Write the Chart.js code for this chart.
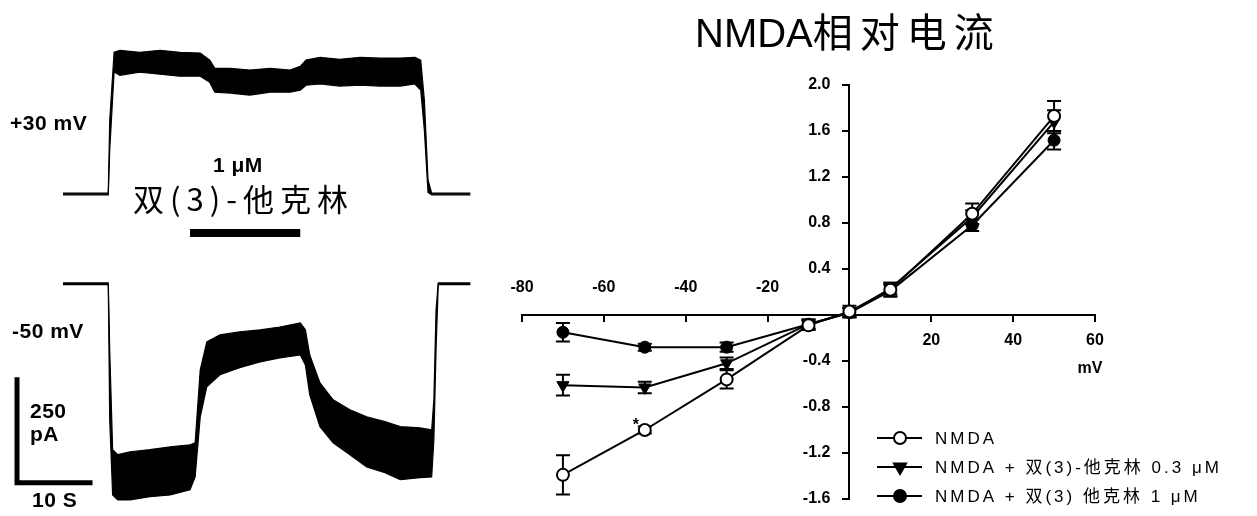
<!DOCTYPE html>
<html>
<head>
<meta charset="utf-8">
<script src="https://cdn.jsdelivr.net/npm/chart.js@4.4.0/dist/chart.umd.min.js"></script>
<style>
body { margin:0; background:#fff; width:1257px; height:516px; overflow:hidden; position:relative;
       font-family:"Liberation Sans", Arial, sans-serif; color:#000; }
canvas { position:absolute; top:0; }
#traces { left:0; }
#iv { left:480px; }
.lbl { position:absolute; white-space:nowrap; line-height:1; }
.b { font-weight:bold; font-size:21px; letter-spacing:0.5px; }
.cjk { font-family:"Noto Sans CJK SC", sans-serif; }
</style>
</head>
<body>
<canvas id="traces" width="480" height="516"></canvas>
<canvas id="iv" width="777" height="516"></canvas>

<div class="lbl b" style="left:10px;top:112px">+30 mV</div>
<div class="lbl b" style="left:12px;top:320px">-50 mV</div>
<div class="lbl b" style="left:213px;top:154px">1 μM</div>
<div class="lbl cjk" style="left:133px;top:182px;font-size:31px;letter-spacing:6px">双(3)-他克林</div>
<div class="lbl b" style="left:30px;top:400px">250</div>
<div class="lbl b" style="left:30px;top:423px">pA</div>
<div class="lbl b" style="left:32px;top:489px">10 S</div>
<div class="lbl" style="left:695px;top:10px;font-size:40px">NMDA<span class="cjk" style="letter-spacing:7px">相对电流</span></div>

<script>
// ---- left: current traces (time in s, current in pA relative to baseline) ----
const t30   = [0,4.4,6.2,6.4,7.0,7.8,10.5,13.3,16.0,18.8,20.1,20.8,22.9,25.6,28.4,31.1,32.5,33.3,35.2,37.9,40.7,43.4,46.2,48.2,49.0,49.5,50.0,50.5,53.0,55.8];
const hi30  = [0,0,0,177,342,347,342,347,342,340,323,303,303,299,303,299,308,323,330,325,330,328,328,330,323,226,32,0,0,0];
const lo30  = [-4,-4,-4,104,294,286,294,289,284,284,269,245,243,238,245,245,250,262,265,260,262,260,260,265,250,153,2,-4,-4,-4];

const t50   = [0,5.1,6.2,6.4,6.8,7.5,9.2,11.9,14.7,17.4,18.1,18.8,19.7,21.5,24.2,27.0,29.7,32.5,33.2,33.8,35.2,37.0,39.3,41.6,44.1,46.2,48.9,50.5,50.8,51.1,51.4,53.0,55.8];
const hi50  = [0,0,0,-163,-405,-417,-410,-405,-398,-393,-388,-211,-143,-126,-119,-114,-107,-97,-114,-175,-243,-284,-308,-325,-337,-349,-352,-357,-284,-66,0,0,0];
const lo50  = [-4,-4,-4,-333,-515,-527,-527,-519,-515,-502,-471,-325,-252,-223,-206,-192,-182,-175,-199,-272,-349,-388,-417,-447,-461,-478,-473,-471,-381,-163,-4,-4,-4];

const drugOn = 17.4, drugOff = 32.5;     // 1 μM 双(3)-他克林 application (s)
const barPA = 250, barSec = 10;          // scale bar

// ---- right: I-V relation ----
const mV        = [-70,-50,-30,-10,0,10,30,50];
const nmda      = [-1.39,-1.00,-0.56,-0.09,0.03,0.22,0.88,1.73];
const nmdaErr   = [0.17,0.03,0.08,0.04,0.05,0.06,0.09,0.13];
const low       = [-0.61,-0.63,-0.42,-0.08,0.02,0.23,0.85,1.68];
const lowErr    = [0.09,0.05,0.05,0.04,0.04,0.05,0.06,0.10];
const high      = [-0.15,-0.28,-0.28,-0.08,0.02,0.21,0.78,1.52];
const highErr   = [0.08,0.03,0.04,0.04,0.04,0.05,0.05,0.08];
const seriesNames = ['NMDA', 'NMDA + 双(3)-他克林 0.3 μM', 'NMDA + 双(3) 他克林 1 μM'];
const xTicks = [-80,-60,-40,-20,20,40,60];

// left chart
const off30 = 218, off50 = 0;
function pts(ts, vs, off) { return ts.map((t, i) => ({x: t, y: vs[i] + off})); }
function band(ts, hi, lo, off) {
    return [
        {data: pts(ts, hi, off), borderColor:'#000', borderWidth:1.2, fill:false},
        {data: pts(ts, lo, off), borderColor:'#000', borderWidth:1.2, backgroundColor:'#000', fill:'-1'}
    ];
}
const barX = -6.3, barY = -485;
new Chart(document.getElementById('traces'), {
    type: 'line',
    data: {
        datasets: [
            ...band(t30, hi30, lo30, off30),
            ...band(t50, hi50, lo50, off50),
            {data: [{x: barX, y: barY + barPA}, {x: barX, y: barY}, {x: barX + barSec, y: barY}],
             borderColor:'#000', borderWidth:5, fill:false, borderCapStyle:'square'},
            {data: [{x: drugOn, y: 121}, {x: drugOff, y: 121}], borderColor:'#000', borderWidth:8, fill:false}
        ]
    },
    options: {
        responsive: false, animation: false,
        layout: {padding: 0},
        elements: {point: {radius: 0}, line: {tension: 0}},
        plugins: {legend: {display: false}, tooltip: {enabled: false}},
        scales: {
            x: {type:'linear', display:false, min:-8.63, max:57.12},
            y: {type:'linear', display:false, min:-566, max:687}
        }
    }
});

// right chart
const errs = [nmdaErr, lowErr, highErr];
const lblFont = 'bold 16px "Liberation Sans", Arial, sans-serif';
const ivDecor = {
    id: 'ivDecor',
    beforeDatasetsDraw(chart) {
        const {ctx, scales: {x, y}} = chart;
        ctx.save();
        ctx.strokeStyle = '#000';
        ctx.lineWidth = 2;
        chart.data.datasets.forEach((ds, k) => {
            ds.data.forEach((p, i) => {
                const px = x.getPixelForValue(p.x);
                const y1 = y.getPixelForValue(p.y + errs[k][i]);
                const y2 = y.getPixelForValue(p.y - errs[k][i]);
                ctx.beginPath();
                ctx.moveTo(px, y1); ctx.lineTo(px, y2);
                ctx.moveTo(px - 7, y1); ctx.lineTo(px + 7, y1);
                ctx.moveTo(px - 7, y2); ctx.lineTo(px + 7, y2);
                ctx.stroke();
            });
        });
        ctx.restore();
    },
    afterDraw(chart) {
        const {ctx, scales: {x, y}} = chart;
        const x0 = x.getPixelForValue(0), y0 = y.getPixelForValue(0);
        ctx.save();
        ctx.fillStyle = '#000';
        ctx.font = lblFont;
        // y labels
        ctx.textAlign = 'right'; ctx.textBaseline = 'middle';
        y.ticks.forEach(t => {
            if (Math.abs(t.value) < 1e-9) return;
            ctx.fillText(t.value.toFixed(1), x0 - 19, y.getPixelForValue(t.value));
        });
        // x labels: negative above the axis, positive below
        ctx.textAlign = 'center';
        xTicks.forEach(v => {
            ctx.fillText(String(v), x.getPixelForValue(v), v < 0 ? y0 - 27 : y0 + 26);
        });
        ctx.fillText('mV', x.getPixelForValue(60) - 5, y0 + 54);
        // significance mark
        const m = chart.getDatasetMeta(0).data[1];
        ctx.fillText('*', m.x - 9, m.y - 4);
        // legend
        ctx.textAlign = 'left';
        ctx.font = '17px "Liberation Sans", "Noto Sans CJK SC", sans-serif';
        ctx.letterSpacing = '3px';
        chart.data.datasets.forEach((ds, k) => {
            const ly = 438 + k * 29, lx = 397;
            ctx.strokeStyle = '#000'; ctx.lineWidth = 2;
            ctx.beginPath(); ctx.moveTo(lx, ly); ctx.lineTo(lx + 45, ly); ctx.stroke();
            ctx.fillStyle = ds.pointBackgroundColor;
            Chart.helpers.drawPoint(ctx, {pointStyle: ds.pointStyle, rotation: ds.pointRotation || 0,
                radius: ds.pointRadius, borderWidth: ds.pointBorderWidth}, lx + 23, ly);
            ctx.fillStyle = '#000';
            ctx.fillText(seriesNames[k], lx + 58, ly + 1);
        });
        ctx.restore();
    }
};
function ser(vals) { return mV.map((v, i) => ({x: v, y: vals[i]})); }
const axisGrid = {drawOnChartArea:false, tickLength:6, color:'#000', lineWidth:2};
new Chart(document.getElementById('iv'), {
    type: 'line',
    data: {
        datasets: [
            {data: ser(nmda), pointStyle:'circle', pointRadius:6, pointBorderWidth:2,
             pointBackgroundColor:'#fff', pointBorderColor:'#000'},
            {data: ser(low), pointStyle:'triangle', pointRotation:180, pointRadius:7, pointBorderWidth:1,
             pointBackgroundColor:'#000', pointBorderColor:'#000'},
            {data: ser(high), pointStyle:'circle', pointRadius:6, pointBorderWidth:1,
             pointBackgroundColor:'#000', pointBorderColor:'#000'}
        ].map(d => Object.assign({borderColor:'#000', borderWidth:2, fill:false, tension:0}, d))
    },
    options: {
        responsive: false, animation: false,
        layout: {padding: {left:42, right:162, top:85, bottom:17}},
        plugins: {legend: {display: false}, tooltip: {enabled: false}},
        scales: {
            x: {type:'linear', min:-80, max:60, position:{y:0},
                ticks:{display:false, stepSize:20}, grid:axisGrid, border:{color:'#000', width:2}},
            y: {type:'linear', min:-1.6, max:2.0, position:{x:0},
                ticks:{display:false, stepSize:0.4}, grid:axisGrid, border:{color:'#000', width:2}}
        }
    },
    plugins: [ivDecor]
});
</script>
</body>
</html>
